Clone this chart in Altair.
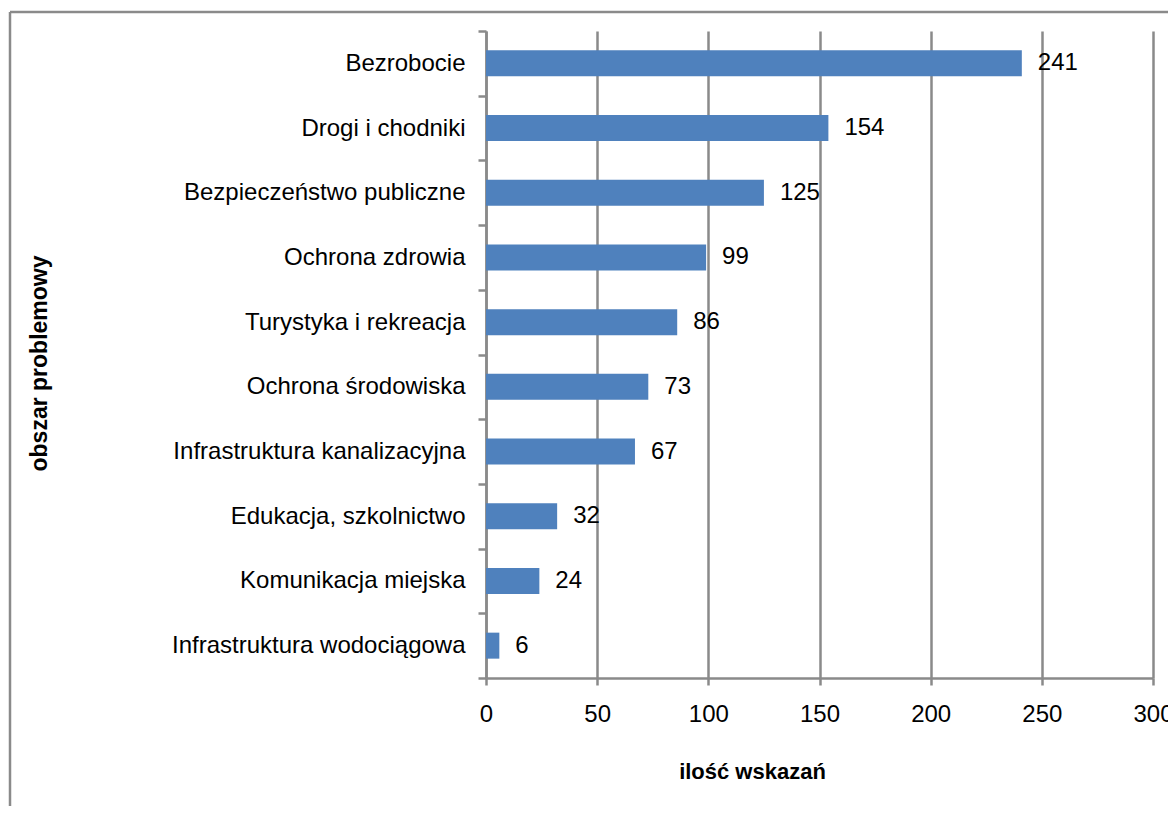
import altair as alt
import pandas as pd

categories = [
    "Bezrobocie",
    "Drogi i chodniki",
    "Bezpieczeństwo publiczne",
    "Ochrona zdrowia",
    "Turystyka i rekreacja",
    "Ochrona środowiska",
    "Infrastruktura kanalizacyjna",
    "Edukacja, szkolnictwo",
    "Komunikacja miejska",
    "Infrastruktura wodociągowa",
]
values = [241, 154, 125, 99, 86, 73, 67, 32, 24, 6]
x_ticks = [0, 50, 100, 150, 200, 250, 300]

df = pd.DataFrame({"obszar": categories, "wskazania": values})

FONT = "Liberation Sans"
GRAY = "#8a8a8a"
BLUE = "#4F81BD"

y_enc = alt.Y(
    "obszar:N",
    sort=categories,
    scale=alt.Scale(paddingInner=0, paddingOuter=0),
    axis=alt.Axis(
        title="obszar problemowy",
        titleFont=FONT,
        titleFontSize=23,
        titleFontWeight="bold",
        titleColor="black",
        titleAngle=-90,
        titleAlign="center",
        titleBaseline="middle",
        titleX=-447,
        titleY=332,
        labelFont=FONT,
        labelFontSize=24,
        labelColor="black",
        labelPadding=13,
        labelLimit=400,
        domainColor=GRAY,
        domainWidth=2.5,
        tickColor=GRAY,
        tickWidth=2.5,
        tickSize=8,
        tickBand="extent",
        grid=False,
    ),
)

x_enc = alt.X(
    "wskazania:Q",
    scale=alt.Scale(domain=[0, 300], nice=False),
    axis=alt.Axis(
        values=x_ticks,
        title="ilość wskazań",
        titleFont=FONT,
        titleFontSize=22,
        titleFontWeight="bold",
        titleColor="black",
        titleAlign="center",
        titleBaseline="middle",
        titleX=266,
        titleY=93,
        labelFont=FONT,
        labelFontSize=24,
        labelColor="black",
        labelPadding=17,
        labelFlush=False,
        domainColor=GRAY,
        domainWidth=2.5,
        tickColor=GRAY,
        tickWidth=2.5,
        tickSize=7,
        grid=True,
        gridColor=GRAY,
        gridWidth=2.5,
    ),
)

base = alt.Chart(df)

bars = base.mark_bar(size=26, color=BLUE).encode(x=x_enc, y=y_enc)

labels = base.mark_text(
    align="left", baseline="middle", dx=16, font=FONT, fontSize=24, color="black"
).encode(x="wskazania:Q", y=alt.Y("obszar:N", sort=categories), text="wskazania:Q")

frame_df = pd.DataFrame({"a": [0]})
left_border = alt.Chart(frame_df).mark_rule(color=GRAY, strokeWidth=2.5).encode(
    x=alt.value(-476), y=alt.value(-19), y2=alt.value(780)
)
top_border = alt.Chart(frame_df).mark_rule(color=GRAY, strokeWidth=2.5).encode(
    x=alt.value(-476), x2=alt.value(690), y=alt.value(-19)
)

chart = (
    alt.layer(bars, labels, left_border, top_border)
    .properties(
        width=667,
        height=647,
        padding={"left": 478, "top": 23, "right": 15, "bottom": 128},
        autosize=alt.AutoSizeParams(type="none"),
        background="white",
    )
    .configure_view(strokeWidth=0)
)

chart.save("out.html", embed_options={"renderer": "svg", "actions": False})
